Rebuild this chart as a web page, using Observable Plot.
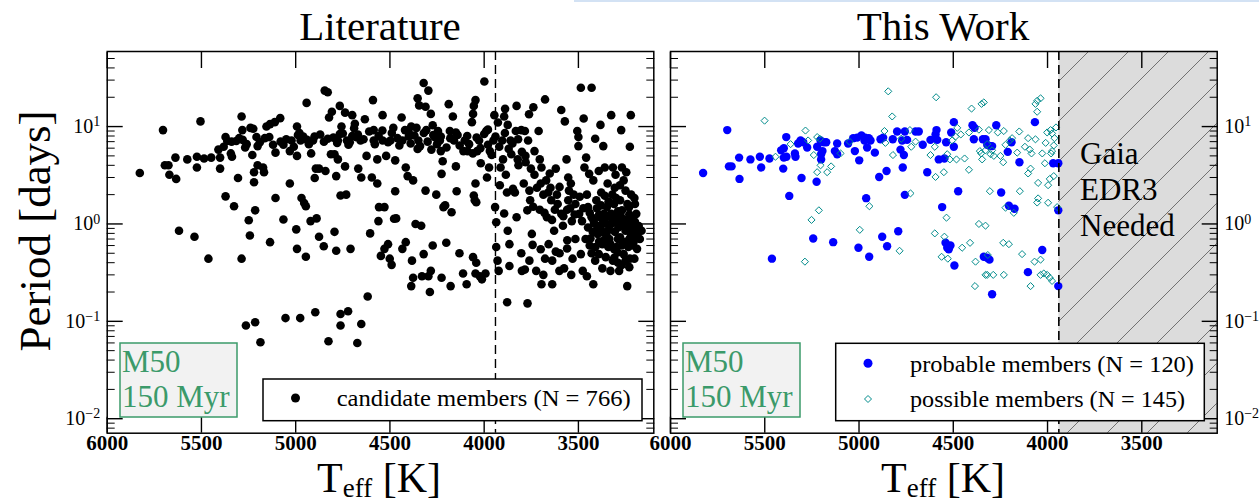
<!DOCTYPE html>
<html><head><meta charset="utf-8">
<script src="https://cdn.jsdelivr.net/npm/d3@7"></script>
<script src="https://cdn.jsdelivr.net/npm/@observablehq/plot@0.6"></script>
<style>
html,body{margin:0;padding:0;background:#fff}
body{width:1259px;height:503px;position:relative;overflow:hidden;font-family:'Liberation Serif','DejaVu Serif',serif}
#left,#right,#ann{position:absolute;top:0}
#left{left:0}#right{left:660px}#ann{left:0;pointer-events:none}
#edge{position:absolute;left:574px;top:0;width:685px;height:2px;background:#d3e2f4}
svg text{font-family:'Liberation Serif','DejaVu Serif',serif}
</style></head><body>
<div id="left"></div><div id="right"></div>
<svg id="ann" width="1259" height="503"></svg>
<div id="edge"></div>
<script>
// ---------------- data (Teff [K], Period [days]) ----------------
const xDomain = [6000, 3100];
const yDomain = [0.0071, 59];
const xTicks = [6000, 5500, 5000, 4500, 4000, 3500];
const yMajor = [0.01, 0.1, 1, 10];
const yMinorMult = [2, 3, 4, 5, 6, 7, 8, 9];
const gaiaBoundary = 3940;

const candidates = [
[5827,3.34],[5704,9.2],[5694,4.0],[5675,4.0],[5670,3.2],[5638,4.8],[5634,2.9],[5619,0.85],[5575,4.6],[5537,0.74],
[5524,3.8],[5524,4.9],[5505,11.3],[5486,4.7],[5463,0.44],[5448,4.8],[5410,5.8],[5401,4.8],[5401,3.7],[5382,6.2],
[5372,7.8],[5372,1.92],[5363,7.1],[5344,5.3],[5338,4.9],[5327,1.52],[5315,7.1],[5306,2.96],[5287,12.7],[5283,9.2],
[5281,7.3],[5287,0.44],[5268,6.1],[5249,1.09],[5243,0.76],[5240,9.7],[5225,9.5],[5230,5.1],[5221,3.4],[5221,2.68],
[5215,1.38],[5202,4.0],[5202,6.3],[5208,7.8],[5173,3.8],[5164,7.6],[5168,3.4],[5155,10],[5136,10.6],[5136,0.65],
[5111,11.1],[5107,1.85],[5107,5.4],[5082,12.2],[5065,1.11],[5065,6.5],[5031,2.6],[5031,5.6],[5022,7.2],[4993,10],
[4993,0.555],[4997,0.88],[4993,5.0],[4988,8.2],[4974,7.2],[4969,1.85],[4955,1.64],[4946,1.52],[4946,0.46],[4942,17.5],
[4940,7.3],[4918,5.3],[4908,7.2],[4921,1.07],[4889,1.14],[4899,2.96],[4893,3.7],[4876,3.7],[4876,0.74],[4851,0.59],
[4842,3.5],[4846,23.4],[4830,22.5],[4823,12.4],[4808,14.2],[4813,5.2],[4794,5.2],[4794,0.83],[4785,3.1],[4785,0.53],
[4776,7.2],[4766,8.4],[4776,4.6],[4766,16.3],[4757,10],[4762,1.96],[4732,2.0],[4738,13.9],[4738,3.9],[4728,7.2],
[4713,6.9],[4709,0.555],[4700,13.1],[4686,10.7],[4681,7.8],[4668,3.7],[4656,7.2],[4652,3.0],[4633,11.9],[4624,5.0],
[4605,0.8],[4618,0.18],[4596,3.0],[4590,18.7],[4586,7.2],[4586,9.2],[4567,2.6],[4567,4.6],[4561,1.07],[4558,1.49],
[4548,0.47],[4539,13.1],[4539,7.2],[4529,1.49],[4529,0.555],[4520,5.0],[4510,0.62],[4501,0.44],[4491,0.38],[4478,1.13],
[4497,7.2],[4482,9.7],[4472,4.5],[4467,1.14],[4472,2.17],[4438,12.4],[4434,0.555],[4416,0.65],[4434,7.2],[4416,3.8],
[4406,3.1],[4400,8.7],[4387,10],[4377,2.8],[4383,0.42],[4377,0.28],[4387,0.23],[4364,1.0],[4359,9.7],[4349,7.2],
[4353,5.9],[4353,19.5],[4345,16.5],[4334,0.96],[4330,0.29],[4321,28],[4321,0.49],[4311,16],[4311,2.2],[4307,9.2],
[4296,23.4],[4296,0.29],[4283,13.5],[4283,0.33],[4288,0.2],[4273,10.3],[4273,0.6],[4264,7.8],[4254,2.0],[4245,9.0],
[4235,7.2],[4230,5.6],[4226,3.27],[4226,0.28],[4220,4.4],[4216,1.49],[4207,1.55],[4201,0.64],[4188,17],[4182,9.0],
[4178,0.23],[4173,1.32],[4166,12.7],[4160,7.2],[4150,3.9],[4146,2.17],[4141,8.2],[4131,0.5],[4112,0.31],[4103,7.2],
[4093,0.24],[4088,5.6],[4065,11.1],[4059,13.5],[4055,16.3],[4046,18.7],[4059,0.456],[4046,0.31],[4042,0.4],[4055,1.96],
[4050,1.75],[4046,2.6],[4042,1.67],[4037,5.6],[4027,7.2],[4023,0.29],[4018,4.2],[4012,0.27],[3999,29],[3993,0.31],
[3989,9.0],[3985,3.0],[3980,9.3],[3974,3.8],[3970,5.6],[3951,7.2],[3946,13.1],[3942,1.49],[3936,1.04],[3936,0.58],
[3927,11],[3929,0.42],[3923,0.33],[3917,2.5],[3913,3.8],[3904,7.2],[3894,12.7],[3889,15.2],[3894,1.28],[3885,3.2],
[3879,2.1],[3875,10.4],[3875,0.85],[3866,0.62],[3866,0.37],[3860,7.2],[3856,5.2],[3847,2.3],[3837,2.1],[3832,9.0],
[3828,16.3],[3828,1.17],[3822,4.6],[3818,4.0],[3803,9.2],[3803,0.5],[3800,0.33],[3790,2.6],[3784,9.0],[3784,0.34],
[3781,5.0],[3771,1.38],[3767,7.2],[3762,13.4],[3756,1.75],[3752,3.7],[3747,0.79],[3743,0.61],[3739,15.8],[3733,5.6],
[3733,3.2],[3724,0.33],[3720,2.35],[3711,9.0],[3705,4.6],[3705,1.4],[3696,3.8],[3696,0.24],[3686,2.0],[3686,0.3],
[3677,19],[3677,0.44],[3671,2.8],[3667,1.17],[3658,0.62],[3652,3.3],[3648,2.35],[3644,1.75],[3639,0.24],[3639,0.42],
[3629,0.85],[3625,1.4],[3620,3.7],[3614,2.0],[3610,1.6],[3601,0.33],[3591,14.8],[3591,1.27],[3582,0.96],[3576,0.35],
[3572,11.3],[3563,4.6],[3559,0.68],[3554,1.75],[3554,3.0],[3550,2.2],[3544,1.45],[3538,0.3],[3535,1.07],[3531,0.44],
[3525,2.0],[3516,1.6],[3516,0.7],[3506,9.0],[3500,7.8],[3500,6.3],[3496,1.27],[3493,1.9],[3487,25],[3487,0.49],
[3481,1.07],[3477,0.33],[3474,1.45],[3472,12.1],[3468,3.8],[3462,0.7],[3459,4.8],[3455,0.29],[3455,2.0],[3449,1.49],
[3449,0.92],[3443,3.27],[3440,0.6],[3436,0.71],[3430,25],[3430,1.17],[3424,0.83],[3421,0.24],[3421,2.8],[3417,1.02],
[3411,7.5],[3411,0.42],[3405,1.75],[3402,1.45],[3398,0.79],[3392,0.49],[3392,3.5],[3386,1.17],[3383,10.4],[3383,0.92],
[3379,2.1],[3373,0.62],[3373,0.35],[3368,6.3],[3364,1.27],[3364,0.68],[3360,3.8],[3355,1.02],[3355,0.456],[3349,1.49],
[3345,0.85],[3345,2.6],[3341,0.58],[3336,0.7],[3330,0.33],[3326,13.1],[3326,1.27],[3322,1.02],[3317,3.8],[3317,0.42],
[3311,1.6],[3307,0.83],[3307,2.35],[3303,3.2],[3298,1.27],[3298,0.58],[3292,0.51],[3288,0.92],[3284,0.33],[3279,1.75],
[3279,0.73],[3273,9.2],[3269,3.8],[3269,1.38],[3265,1.07],[3260,0.49],[3254,0.65],[3250,2.2],[3246,3.4],[3241,0.23],
[3241,0.92],[3235,0.58],[3231,1.49],[3227,6.2],[3227,0.44],[3222,13.1],[3222,0.79],[3212,1.17],[3208,0.65],[3203,1.85],
[3203,0.44],[3193,1.27],[3189,0.555],[3184,0.82],[3174,0.7],[3165,0.85],[3193,0.92],[3216,1.02],
[5340,7.0],[5300,7.6],[5260,6.6],[5190,6.9],[5140,7.8],[5120,6.5],[5080,7.0],[5050,7.4],[5010,6.2],[4980,8.6],
[4960,7.9],[4930,6.6],[4900,7.9],[4870,8.3],[4850,7.0],[4830,7.5],[4800,7.7],[4780,6.8],[4750,8.5],[4720,6.5],
[4700,8.0],[4690,9.6],[4670,8.3],[4640,7.4],[4610,8.9],[4580,6.6],[4560,8.0],[4540,9.1],[4510,6.9],[4490,8.6],
[4460,7.6],[4450,6.4],[4420,9.2],[4400,7.9],[4390,6.7],[4370,8.1],[4340,6.3],[4320,8.6],[4300,7.0],[4280,5.8],
[4270,8.2],[4250,6.6],[4230,7.9],[4200,6.1],[4180,7.6],[4150,8.7],[4130,6.4],[4110,5.6],[4090,8.0],[4080,6.6],
[4060,5.3],[4040,7.7],[4020,6.0],[4000,8.4],[3980,6.5],[3960,5.1],[3940,7.9],[3920,6.2],[3900,4.6],[3890,8.6],
[3870,5.9],[3850,6.7],[3820,7.4],[3800,5.5],[3780,4.3],
[5264,0.0906],[5215,0.098],[5187,0.061],[5054,0.108],[4976,0.108],[4896,0.124],[4762,0.119],[4722,0.127],[4762,0.0906],[4826,0.0625],
[4652,0.094],[4673,0.060],[3878,0.157],[3770,0.153],
[3440,1.3],[3420,1.1],[3400,0.95],[3390,1.25],[3370,1.05],[3350,1.2],[3335,0.95],[3320,1.15],[3300,1.05],[3290,1.35],
[3275,1.2],[3260,0.95],[3245,1.1],[3230,1.25],[3215,0.88],[3200,1.05],[3180,0.95],[3190,0.75],[3210,0.6],[3230,0.7],
[3250,0.85],[3270,0.6],[3290,0.7],[3310,0.55],[3330,0.62],[3350,0.75],[3370,0.82],[3390,0.66],[3410,0.58],[3430,0.5],
[3310,0.45],[3290,0.4],[3270,0.38],[3250,0.42],[3230,0.36],[3340,1.7],[3320,2.0],[3300,1.85],[3280,2.5],[3260,2.8],
[3240,1.6],[3220,2.0],[3200,1.6],[3380,1.55],[3360,1.95],
[3760,2.2],[3740,1.5],[3700,2.6],[3680,1.3],[3660,2.1],[3640,1.1],[3600,2.4],[3580,1.2],[3560,1.4],[3540,2.6],
[3520,1.25],[3600,0.5],[3620,0.52],[3700,0.55],[3760,0.42],[3560,0.56]
];

const probable = [
[5827,3.34],[5699,9.2],[5690,3.9],[5676,3.9],[5634,2.9],[5636,4.8],[5576,4.6],[5526,4.9],[5519,3.8],[5475,4.7],
[5462,0.44],[5413,5.7],[5399,6.0],[5402,3.7],[5399,4.8],[5385,4.9],[5386,7.8],[5370,1.94],[5340,5.3],[5337,4.9],
[5323,6.7],[5310,7.2],[5296,6.9],[5305,2.96],[5275,6.1],[5243,0.71],[5225,2.71],[5222,6.2],[5204,7.2],[5187,6.9],
[5174,6.9],[5201,5.2],[5194,5.6],[5201,4.6],[5137,0.65],[5128,5.6],[5116,5.2],[5116,6.7],[5058,6.7],[5031,7.6],
[5010,7.7],[4987,8.1],[4971,7.2],[4967,7.7],[5022,5.6],[4999,4.5],[4957,6.1],[4948,7.6],[4939,7.2],[5003,0.57],
[4962,1.84],[4946,0.46],[4916,5.4],[4893,3.04],[4886,7.4],[4872,7.7],[4854,3.5],[4877,0.74],[4851,0.59],[4821,7.4],
[4798,8.9],[4792,0.84],[4780,5.8],[4771,7.2],[4762,5.1],[4757,8.9],[4757,1.99],[4768,3.8],[4745,7.3],[4700,8.9],
[4683,8.9],[4662,6.5],[4638,3.4],[4621,7.3],[4594,8.3],[4589,9.2],[4585,7.3],[4577,4.6],[4547,4.7],[4559,1.49],
[4541,0.64],[4532,0.57],[4524,0.55],[4515,0.6],[4538,6.9],[4511,8.7],[4497,11.1],[4497,6.2],[4494,0.374],[4474,2.17],
[4398,10.3],[4387,9.7],[4391,7.4],[4343,7.4],[4329,7.4],[4320,6.5],[4306,6.3],[4294,6.3],[4338,0.46],[4320,0.45],
[4308,0.43],[4294,0.19],[4272,10.3],[4246,2.1],[4211,5.5],[4205,1.54],[4191,6.9],[4175,1.43],[4149,4.3],[4104,0.32],
[4067,11.1],[4028,0.54],[3970,4.2],[3943,4.2],[3943,1.38],[3943,0.23]
];

const possible = [
[5501,11.5],[5284,9.1],[5270,7.2],[5222,7.8],[5208,7.5],[5363,6.6],[5443,4.9],[5240,5.1],[5222,3.4],[5204,4.0],
[5169,3.4],[5148,3.9],[5252,1.10],[5213,1.38],[5287,0.41],[5098,5.3],[4996,0.87],[4945,1.52],[4865,9.0],[4845,23],
[4824,12.7],[4820,5.1],[4785,0.53],[4776,7.5],[4730,9.2],[4723,6.2],[4727,2.06],[4621,5.1],[4598,6.2],[4594,3.04],
[4598,0.8],[4591,20],[4550,3.4],[4547,0.74],[4536,1.16],[4562,0.46],[4529,0.44],[4532,5.2],[4518,4.6],[4506,7.2],
[4488,7.9],[4479,9.7],[4483,4.6],[4453,0.57],[4440,4.7],[4417,3.6],[4417,8.7],[4411,0.64],[4403,15.3],[4382,0.41],
[4385,0.23],[4364,9.3],[4359,5.6],[4352,5.3],[4350,17.1],[4338,17.7],[4347,4.6],[4329,5.7],[4320,6.6],[4302,5.2],
[4294,5.7],[4364,1.0],[4329,0.96],[4329,0.3],[4320,0.3],[4288,0.3],[4317,0.48],[4306,2.17],[4285,5.0],[4311,9.2],
[4264,8.7],[4232,9.0],[4250,5.0],[4235,4.3],[4223,6.5],[4200,7.2],[4188,7.6],[4235,0.64],[4205,0.62],[4232,0.3],
[4223,1.47],[4179,1.3],[4161,5.4],[4147,2.17],[4135,0.49],[4103,7.6],[4103,3.3],[4090,3.7],[4094,5.8],[4085,5.3],
[4090,0.23],[4069,0.41],[4037,0.43],[4064,7.4],[4064,17.1],[4055,14.2],[4037,19.5],[4055,18.4],[4050,2.64],[4050,1.83],
[4055,1.66],[4037,0.3],[4020,0.31],[4002,0.3],[3988,0.28],[3976,0.26],[4028,5.3],[4014,4.2],[4002,8.7],[3984,9.2],
[3976,8.5],[3997,2.5],[3988,2.9],[3967,3.1],[3963,7.6],[3967,6.4],[3997,1.65],[3949,1.49],[3981,5.3],[3976,5.6],
[4460,8.3],[4150,8.9],[4120,6.2],[4010,6.8],[3955,9.8],[4700,7.0],[4860,6.8],[5050,7.0]
];

// ---------------- helpers ----------------
const yMinor = [];
for (const d of [0.001, 0.01, 0.1, 1, 10]) for (const m of yMinorMult) {
  const v = +(d * m).toPrecision(3);
  if (v > yDomain[0] && v < yDomain[1]) yMinor.push(v);
}
const FONT = "'Liberation Serif', 'DejaVu Serif', serif";

function axes(labelSide) {
  const none = () => "";
  return [
    Plot.frame({stroke: "black", strokeWidth: 1.5}),
    Plot.axisX(xTicks, {anchor: "bottom", tickSize: -16, tickFormat: none, strokeWidth: 1.4}),
    Plot.axisX(xTicks, {anchor: "top", tickSize: -16, tickFormat: none, strokeWidth: 1.4}),
    Plot.axisX(xTicks, {anchor: "bottom", tickSize: 0, tickPadding: 2, tickFormat: d => String(d), fontSize: 21, fontWeight: "bold", fill: "black"}),
    Plot.axisY(yMajor, {anchor: "left", tickSize: -16, tickFormat: none, strokeWidth: 1.4}),
    Plot.axisY(yMajor, {anchor: "right", tickSize: -16, tickFormat: none, strokeWidth: 1.4}),
    Plot.axisY(yMinor, {anchor: "left", tickSize: -8, tickFormat: none, strokeWidth: 1}),
    Plot.axisY(yMinor, {anchor: "right", tickSize: -8, tickFormat: none, strokeWidth: 1}),
    Plot.axisY(yMajor, {anchor: labelSide, tickSize: 0, tickPadding: 7, tickFormat: d => "10^" + Math.round(Math.log10(d)), fontSize: 20, fill: "black"})
  ];
}

function supify(svg) {
  d3.select(svg).selectAll("text").each(function () {
    const m = /^10\^(-?\d+)$/.exec(this.textContent);
    if (!m) return;
    const s = d3.select(this);
    s.selectAll("*").remove();
    s.text(null);
    s.append("tspan").text("10");
    s.append("tspan").attr("dy", "-0.48em").attr("font-size", 14).text(m[1].replace("-", "\u2212"));
  });
}

const common = {
  height: 503,
  marginTop: 51, marginBottom: 70.3,
  x: {domain: xDomain},
  y: {type: "log", domain: yDomain},
  style: {fontFamily: FONT, background: "transparent", overflow: "visible", color: "black"}
};

// ---------------- left panel ----------------
const left = Plot.plot({
  ...common,
  width: 660, marginLeft: 106.7, marginRight: 6.7,
  marks: [
    Plot.dot(candidates, {x: d => d[0], y: d => d[1], r: 4.3, fill: "black"}),
    Plot.ruleX([gaiaBoundary], {stroke: "black", strokeWidth: 1.4, strokeDasharray: "9,5"}),
    ...axes("left")
  ]
});
supify(left);
document.getElementById("left").append(left);

// ---------------- right panel ----------------
const right = Plot.plot({
  ...common,
  width: 599, marginLeft: 10, marginRight: 42.3,
  marks: [
    Plot.rect([{x1: gaiaBoundary, x2: xDomain[1]}], {x1: "x1", x2: "x2", fill: "#dcdcdc"}),
    Plot.dot(probable, {x: d => d[0], y: d => d[1], r: 4.2, fill: "#0000ff"}),
    Plot.dot(possible, {x: d => d[0], y: d => d[1], r: 3.2, symbol: "diamond2", stroke: "#008b8b", fill: "none", strokeWidth: 1}),
    Plot.ruleX([gaiaBoundary], {stroke: "black", strokeWidth: 1.6, strokeDasharray: "9,5"}),
    ...axes("right")
  ]
});
supify(right);
{
  const s = d3.select(right);
  const shaded = s.selectAll("rect").filter(function () { return this.getAttribute("fill") === "#dcdcdc"; });
  const pat = s.insert("defs", ":first-child").append("pattern")
    .attr("id", "hatch").attr("patternUnits", "userSpaceOnUse").attr("width", 40).attr("height", 40);
  pat.append("rect").attr("width", 40).attr("height", 40).attr("fill", "#dcdcdc");
  pat.append("path").attr("d", "M0,40L40,0M-10,10L10,-10M30,50L50,30").attr("stroke", "#555").attr("stroke-width", 0.8);
  shaded.attr("fill", "url(#hatch)");
  s.selectAll("g").filter(function () { return this.getAttribute("fill") === "#dcdcdc"; }).attr("fill", "url(#hatch)");
}
document.getElementById("right").append(right);

// ---------------- annotations ----------------
const green = "#3b9a6a";
const ann = d3.select("#ann");
const T = (x, y, txt, size, opts = {}) => {
  const t = ann.append("text").attr("x", x).attr("y", y).attr("font-size", size)
    .attr("fill", opts.fill || "black").attr("text-anchor", opts.anchor || "start").text(txt);
  if (opts.len) t.attr("textLength", opts.len).attr("lengthAdjust", "spacingAndGlyphs");
  return t;
};
T(380, 40, "Literature", 41, {anchor: "middle"});
T(943, 40, "This Work", 41, {anchor: "middle"});
for (const cx of [379, 943]) {
  const t = ann.append("text").attr("x", cx).attr("y", 492).attr("font-size", 42).attr("text-anchor", "middle");
  t.append("tspan").text("T");
  t.append("tspan").attr("font-size", 27).attr("dy", 5).text("eff");
  t.append("tspan").attr("dy", -5).text(" [K]");
}
ann.append("text").attr("transform", "translate(50,231) rotate(-90)").attr("text-anchor", "middle")
  .attr("font-size", 45).text("Period [days]");
// Gaia note
["Gaia", "EDR3", "Needed"].forEach((s, i) => T(1080, 164 + 36 * i, s, 31));
// cluster boxes
for (const bx of [120, 683]) {
  ann.append("rect").attr("x", bx).attr("y", 343).attr("width", 117).attr("height", 74)
    .attr("fill", "#f2f2f2").attr("stroke", green).attr("stroke-width", 1.5);
  T(bx + 2, 371.5, "M50", 31, {fill: green});
  T(bx + 2, 406.5, "150 Myr", 31, {fill: green});
}
// legends
ann.append("rect").attr("x", 263).attr("y", 379).attr("width", 379).attr("height", 41.7)
  .attr("fill", "white").attr("stroke", "black").attr("stroke-width", 1.5);
ann.append("circle").attr("cx", 295.5).attr("cy", 398).attr("r", 4.5).attr("fill", "black");
T(336.7, 406, "candidate members (N = 766)", 23, {len: 294});

ann.append("rect").attr("x", 835.7).attr("y", 343.3).attr("width", 368.6).attr("height", 77.4)
  .attr("fill", "white").attr("stroke", "black").attr("stroke-width", 1.5);
ann.append("circle").attr("cx", 868).attr("cy", 363.3).attr("r", 4.5).attr("fill", "#0000ff");
ann.append("path").attr("d", "M868,395.5L871.5,399L868,402.5L864.5,399Z").attr("fill", "white").attr("stroke", "#008b8b").attr("stroke-width", 1);
T(910, 371.5, "probable members (N = 120)", 23, {len: 284});
T(910, 407, "possible members (N = 145)", 23, {len: 275});
</script>
</body></html>
